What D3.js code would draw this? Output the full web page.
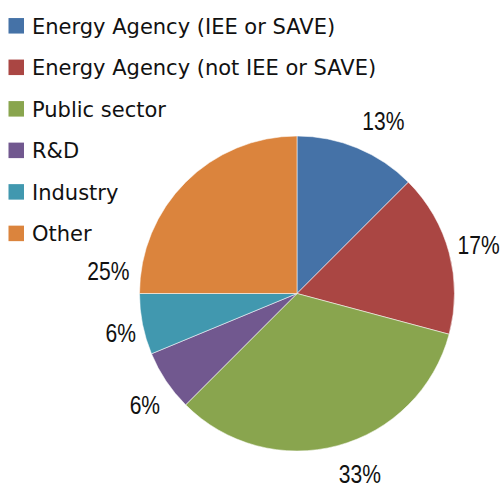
<!DOCTYPE html>
<html>
<head>
<meta charset="utf-8">
<script src="https://cdn.jsdelivr.net/npm/d3@7"></script>
<style>
    html, body { margin: 0; padding: 0; background: #fff; }
    .lg-text { font-family: 'DejaVu Sans', sans-serif; font-size: 21px; fill: #111; }
    .pc-label { font-family: 'Liberation Sans', sans-serif; font-size: 26px; fill: #111; }
</style>
</head>
<body>
<svg id="chart"></svg>
<script>
'use strict';

// data (counts, shares shown as rounded percentages)
const categories = [
    'Energy Agency (IEE or SAVE)',
    'Energy Agency (not IEE or SAVE)',
    'Public sector',
    'R&D',
    'Industry',
    'Other'
];
const values = [6, 8, 16, 3, 3, 12];
const colors = ['#4572A7', '#AA4643', '#89A54E', '#71588F', '#4198AF', '#DB843D'];

// layout
const width = 504, height = 486;
const cx = 297, cy = 293.5, radius = 157.5;
const label_r = 189;
const label_squeeze = 0.81;   // the original labels use a narrow face
// small hand nudges so labels sit where the original ones sit
const label_nudge = [[14, 2], [-1, 0], [14, -2], [5, 6], [9, 2], [-55, 111]];

const svg = d3.select('#chart')
    .attr('width', width)
    .attr('height', height);

const total = d3.sum(values);
const pie = d3.pie().sort(null).value(d => d);
const arcs = pie(values);

const arc = d3.arc().innerRadius(0).outerRadius(radius);
const label_arc = d3.arc().innerRadius(label_r).outerRadius(label_r);

const g = svg.append('g')
    .attr('transform', 'translate(' + cx + ',' + cy + ')');

// slices
g.selectAll('.slice')
    .data(arcs)
    .enter()
    .append('path')
    .attr('class', 'slice')
    .attr('d', arc)
    .attr('fill', (d, i) => colors[i])
    .attr('stroke', 'rgba(255,255,255,0.7)')
    .attr('stroke-width', 0.75);

// percentage labels
g.selectAll('.pc-label')
    .data(arcs)
    .enter()
    .append('text')
    .attr('class', 'pc-label')
    .attr('text-anchor', 'middle')
    .attr('dy', '0.36em')
    .attr('transform', function(d, i) {
        const c = label_arc.centroid(d);
        const x = c[0] + label_nudge[i][0];
        const y = c[1] + label_nudge[i][1];
        return 'translate(' + x + ',' + y + ') scale(' + label_squeeze + ',1)';
    })
    .text(d => Math.round(d.value / total * 100) + '%');

// legend
const y_legend = d3.scalePoint()
    .domain(categories)
    .range([25.8, 233.4]);
const sq = 15.5;

const items = svg.selectAll('.lg-item')
    .data(categories)
    .enter()
    .append('g')
    .attr('class', 'lg-item')
    .attr('transform', d => 'translate(0,' + y_legend(d) + ')');

items.append('rect')
    .attr('x', 8.5)
    .attr('y', -sq / 2)
    .attr('width', sq)
    .attr('height', sq)
    .attr('fill', (d, i) => colors[i]);

items.append('text')
    .attr('class', 'lg-text')
    .attr('x', 32)
    .attr('y', 8)
    .text(d => d);
</script>
</body>
</html>
